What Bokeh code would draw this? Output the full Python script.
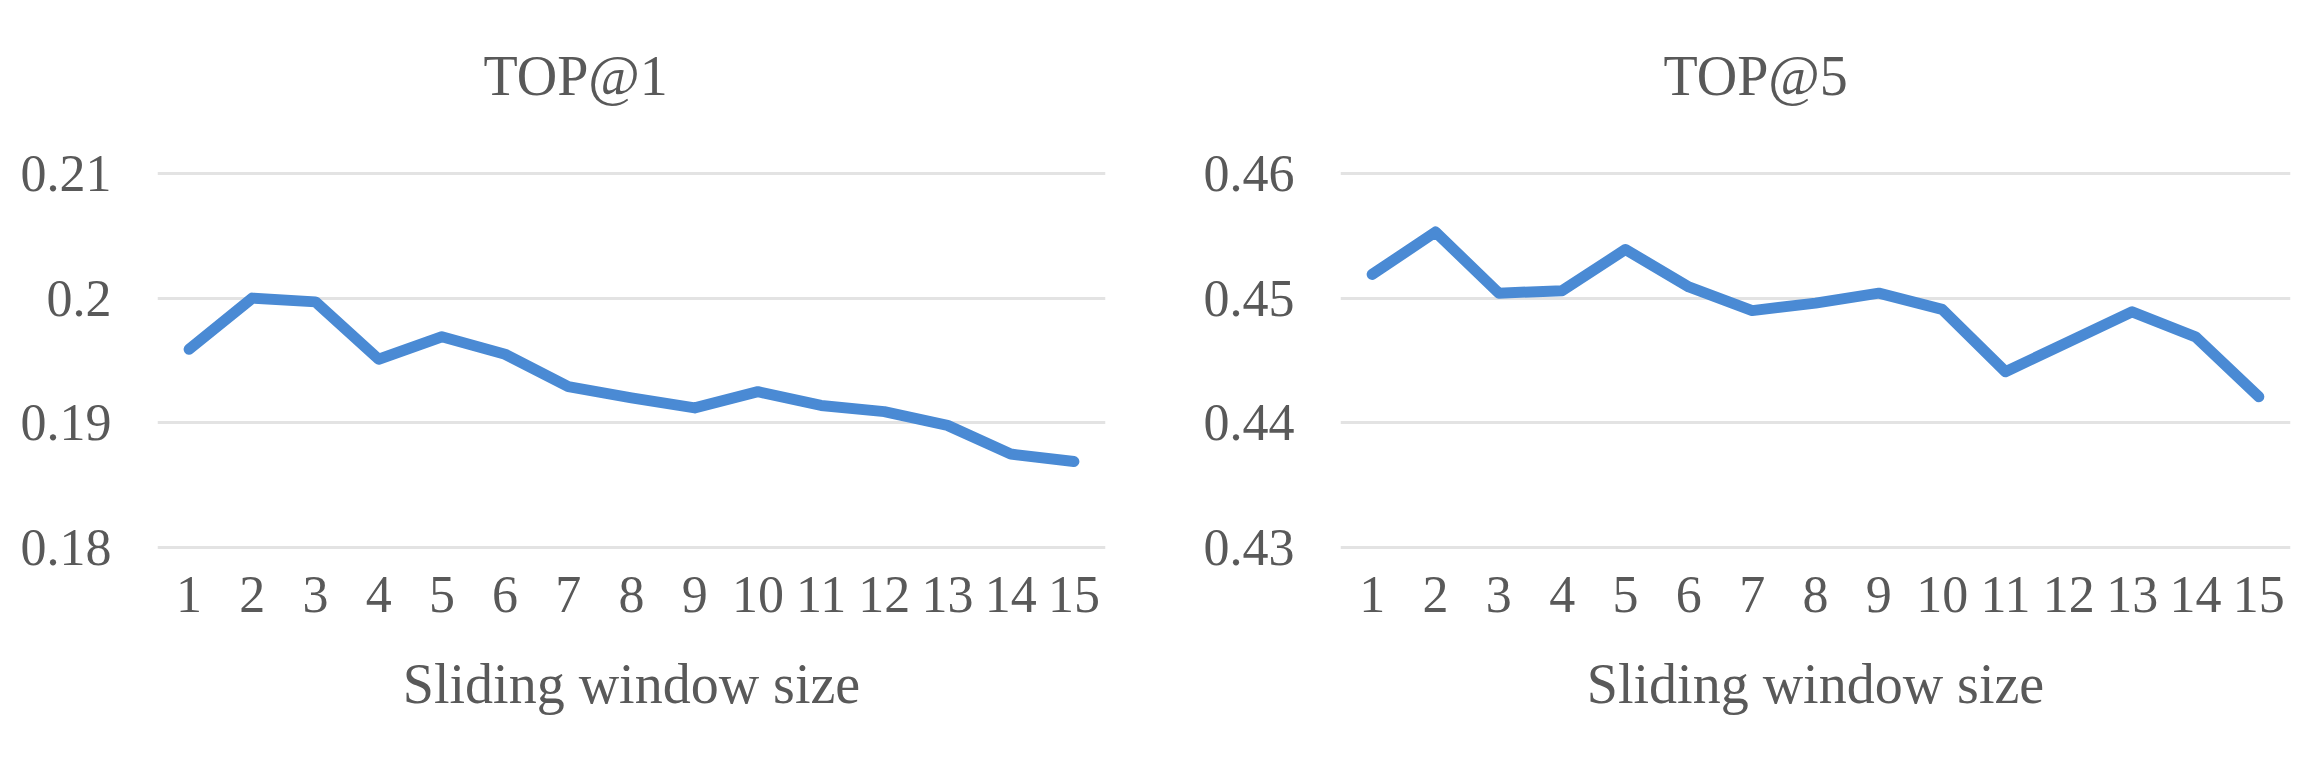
from bokeh.plotting import figure
from bokeh.layouts import row
from bokeh.models import Range1d, FactorRange, FixedTicker
from bokeh.embed import file_html
from bokeh.resources import INLINE

# ---- data ----
windows = [str(i) for i in range(1, 16)]
top1 = [0.1959, 0.2000, 0.1997, 0.1951, 0.1969, 0.1955, 0.1929, 0.1920,
        0.1912, 0.1925, 0.1914, 0.1909, 0.1898, 0.1875, 0.1869]
top5 = [0.4519, 0.4553, 0.4504, 0.4506, 0.4539, 0.4509, 0.4490, 0.4496,
        0.4504, 0.4491, 0.4441, 0.4465, 0.4489, 0.4469, 0.4421]
top1_ticks = [0.18, 0.19, 0.2, 0.21]
top1_labels = ["0.18", "0.19", "0.2", "0.21"]
top5_ticks = [0.43, 0.44, 0.45, 0.46]
top5_labels = ["0.43", "0.44", "0.45", "0.46"]
titles = ["TOP@1", "TOP@5"]
x_title = "Sliding window size"

FONT = "Liberation Serif"
TXT = "#595959"
BLUE = "#4A8AD4"


def make(title, vals, ticks, labels, w, bl, br, toff):
    pad = 0.00015
    p = figure(width=w, height=766,
               x_range=FactorRange(*windows),
               y_range=Range1d(ticks[0] - pad, ticks[-1] + pad),
               output_backend="svg", toolbar_location=None,
               min_border_left=bl, min_border_right=br,
               min_border_top=197, min_border_bottom=191)
    p.outline_line_color = None
    p.background_fill_color = "white"
    p.border_fill_color = "white"

    p.title.text = title
    p.title.align = "left"
    p.title.offset = toff
    p.title.standoff = 130
    p.title.text_font = FONT
    p.title.text_font_size = "56px"
    p.title.text_font_style = "normal"
    p.title.text_color = TXT

    p.line(windows, vals, line_color=BLUE, line_width=11,
           line_join="round", line_cap="round")

    p.yaxis.ticker = FixedTicker(ticks=ticks)
    p.yaxis.major_label_overrides = {t: l for t, l in zip(ticks, labels)}
    p.xgrid.grid_line_color = None
    p.ygrid.grid_line_color = "#E3E3E3"
    p.ygrid.grid_line_width = 3

    for ax in (p.xaxis, p.yaxis):
        ax.axis_line_color = None
        ax.major_tick_line_color = None
        ax.minor_tick_line_color = None
        ax.major_label_text_font = FONT
        ax.major_label_text_font_size = "52px"
        ax.major_label_text_color = TXT
    p.yaxis.major_label_standoff = 40
    p.xaxis.major_label_standoff = 21
    p.xaxis.axis_label = x_title
    p.xaxis.axis_label_text_font = FONT
    p.xaxis.axis_label_text_font_size = "56px"
    p.xaxis.axis_label_text_font_style = "normal"
    p.xaxis.axis_label_text_color = TXT
    p.xaxis.axis_label_standoff = 38
    return p


p1 = make(titles[0], top1, top1_ticks, top1_labels, 1158, 157, 53, 326)
p2 = make(titles[1], top5, top5_ticks, top5_labels, 1150, 182, 18, 323)

layout = row(p1, p2, spacing=0, margin=(-26, 0, 0, 0))
open("out.html", "w").write(file_html(layout, INLINE))
